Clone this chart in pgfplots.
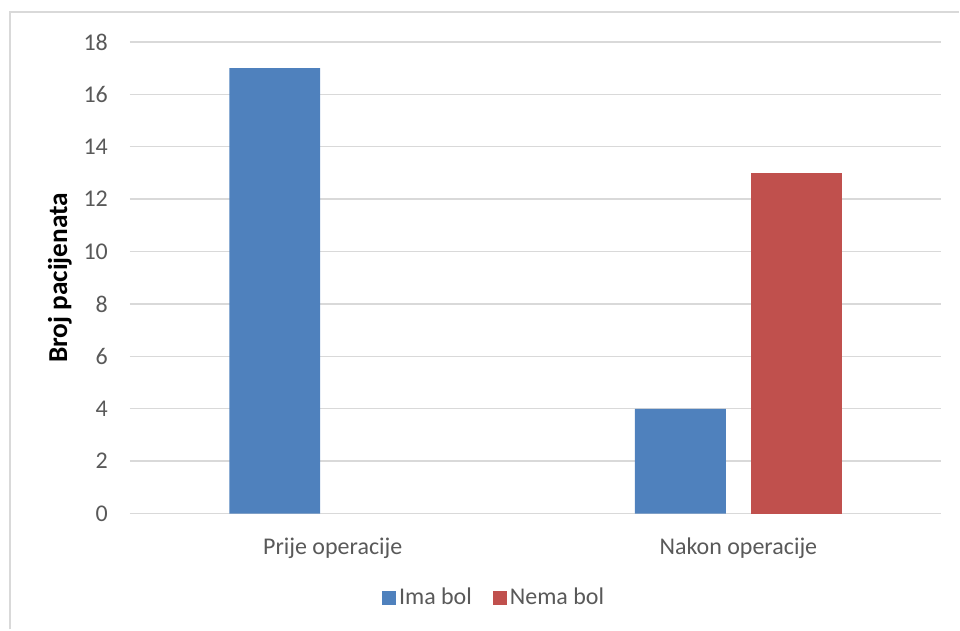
\documentclass[border=0pt]{standalone}
\usepackage{pgfplots}
\pgfplotsset{compat=1.18}
\usepackage{fontspec}
\setmainfont{Carlito}
\definecolor{imablue}{HTML}{4F81BD}
\definecolor{nemared}{HTML}{C0504D}
\definecolor{gridgray}{HTML}{D9D9D9}
\definecolor{ticktext}{HTML}{595959}
\definecolor{framegray}{HTML}{D9D9D9}
\newcommand{\chartfont}{\fontsize{18}{21}\selectfont}

\begin{document}
% 1 px of the reference = 0.75pt; axis box lower left sits at px (130,514)
\begin{tikzpicture}
\path (-97.5pt,-87pt) rectangle (622.5pt,385.5pt);
\draw[framegray, line width=1.2pt] (-90pt,-87pt) -- (-90pt,376.5pt) -- (622.5pt,376.5pt);
\begin{axis}[
	at={(0pt,0pt)}, anchor=south west,
	scale only axis,
	width=609pt, height=354pt,
	ybar=18.75pt,
	bar width=68.25pt,
	xmin=-0.5, xmax=1.5,
	ymin=0, ymax=18,
	xtick={0,1},
	xticklabels={Prije operacije, Nakon operacije},
	ytick={0,2,...,18},
	axis line style={draw=none},
	major tick length=0pt,
	ymajorgrids,
	grid style={gridgray, line width=1.1pt},
	yticklabel style={font=\chartfont, text=ticktext, xshift=-13pt},
	xticklabel style={font=\chartfont, text=ticktext, yshift=-15pt},
	ylabel={Broj pacijenata},
	every axis y label/.style={at={(-52.5pt,177pt)}, rotate=90, anchor=center,
		font=\fontsize{20.5}{24}\selectfont\bfseries, text=black},
	legend columns=2,
	legend style={at={(0.4495,-0.178)}, anchor=center, draw=none,
		font=\chartfont, text=ticktext,
		/tikz/every even column/.append style={column sep=14pt}},
	legend image code/.code={\fill[#1] (-2pt,-5.25pt) rectangle (8.5pt,5.25pt);},
	/pgf/number format/assume math mode=true,
]
\addplot[fill=imablue, draw=none] coordinates {(0,17) (1,4)};
\addplot[fill=nemared, draw=none] coordinates {(1,13)};
\legend{Ima bol, Nema bol}
\end{axis}
\end{tikzpicture}
\end{document}
